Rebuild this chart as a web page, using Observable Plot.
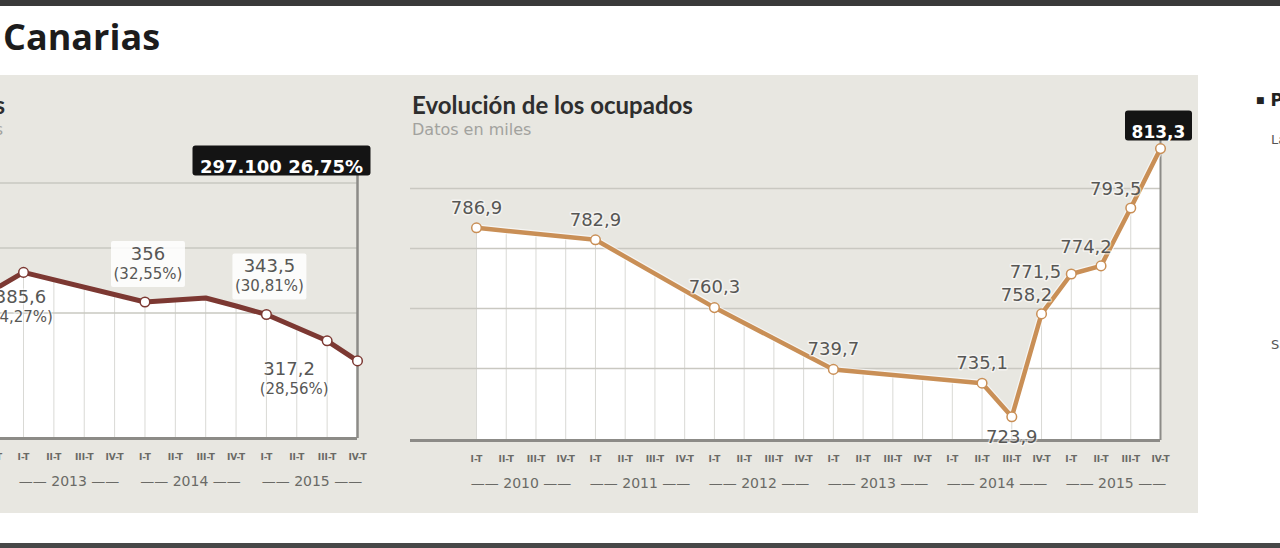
<!DOCTYPE html>
<html>
<head>
<meta charset="utf-8">
<script src="https://cdn.jsdelivr.net/npm/d3@7"></script>
<script src="https://cdn.jsdelivr.net/npm/@observablehq/plot@0.6"></script>
<style>
  html, body { margin: 0; padding: 0; background: #fff; }
  #page { position: relative; width: 1280px; height: 548px; overflow: hidden; background: #fff;
          font-family: "DejaVu Sans", sans-serif; }
  .abs { position: absolute; white-space: nowrap; }
  #topbar { left: 0; top: 0; width: 1280px; height: 6px; background: #3a3a3a; }
  #botbar { left: 0; top: 543px; width: 1280px; height: 5px; background: #474747; }
  #title { left: 3px; top: 15px; font: 700 36px "Open Sans", sans-serif; color: #1c1c1c; line-height: 1.2; }
  #panel { left: 0; top: 75px; width: 1198px; height: 438px; background: #e8e7e1; }
  .ptitle { font: 700 24px Lato, "DejaVu Sans", sans-serif; color: #2e2e2e; line-height: 1; }
  .psub { font: 400 16px "DejaVu Sans", sans-serif; color: #a2a29e; line-height: 1; }
  .chart { position: absolute; top: 75px; }
  #rtitle { left: 1256px; top: 90px; font: 700 17px "DejaVu Sans", sans-serif; color: #222; }
  .rtxt { font: 400 13px "DejaVu Sans", sans-serif; color: #555; }
</style>
</head>
<body>
<div id="page">
  <div id="topbar" class="abs"></div>
  <div id="title" class="abs">Canarias</div>
  <div id="panel" class="abs"></div>
  <div class="abs ptitle" style="left:-300px;width:305px;text-align:right;top:93px;">Evolución de los parados</div>
  <div class="abs psub" style="left:-300px;width:303px;text-align:right;top:122px;">Datos en miles</div>
  <div class="abs ptitle" style="left:412px;top:93px;">Evolución de los ocupados</div>
  <div class="abs psub" style="left:412px;top:122px;">Datos en miles</div>
  <div id="left" class="chart" style="left:-130px;"></div>
  <div id="mid" class="chart" style="left:400px;"></div>
  <div id="rtitle" class="abs"><span style="font-size:9px;vertical-align:3px;">■</span> Paro por provincias</div>
  <div class="abs rtxt" style="left:1271px;top:132px;">Las Palmas</div>
  <div class="abs rtxt" style="left:1271px;top:337px;">Santa Cruz de Tenerife</div>
  <div id="botbar" class="abs"></div>
</div>
<script>
// ---------- DATA ----------
const quarterNames = ["I-T", "II-T", "III-T", "IV-T"];

// Evolución de los ocupados (miles)
const ocupadosYear    = [2010, 2011, 2012, 2013, 2014, 2014, 2014, 2015, 2015, 2015, 2015];
const ocupadosQuarter = [1, 1, 1, 1, 2, 3, 4, 1, 2, 3, 4];
const ocupadosValue   = [786.9, 782.9, 760.3, 739.7, 735.1, 723.9, 758.2, 771.5, 774.2, 793.5, 813.3];
const ocupadosYears   = [2010, 2011, 2012, 2013, 2014, 2015];
const ocupadosGrid    = [740, 760, 780, 800];

// Evolución de los parados (miles) and tasa de paro (%)
const paradosYear    = [2012, 2013, 2014, 2014, 2014, 2015, 2015, 2015];
const paradosQuarter = [4, 1, 1, 3, 4, 1, 3, 4];
const paradosValue   = [368, 385.6, 356, 360, 352, 343.5, 317.2, 297.1];
const paradosRate    = [null, 34.27, 32.55, null, null, 30.81, 28.56, 26.75];
const paradosMarked  = [false, true, true, false, false, true, true, true];
const paradosYears   = [2012, 2013, 2014, 2015];
const paradosGrid    = [345, 410, 475];
const paradosLastLabel = "297.100 26,75%";

// label placement codes (kept apart from values)
const ocupadosLabelPlace = ["n", "n", "n", "n", "n", "s", "nw", "w", "nw", "nw", "box"];
const paradosLabelPlace  = [null, "s", "boxn", null, null, "boxn", "sw", "top"];

// ---------- HELPERS ----------
const PANEL = "#e8e7e1";
const FONT = '"DejaVu Sans",sans-serif';
const fmt = v => v.toFixed(1).replace(".", ",");
const fmtRate = v => "(" + v.toFixed(2).replace(".", ",") + "%)";
const qx = (y, q) => y + (q - 1) / 4;

function roundRectSymbol(w, h, r) {
  return {
    draw(ctx) {
      const x0 = -w / 2, y0 = -h / 2, x1 = w / 2, y1 = h / 2;
      ctx.moveTo(x0 + r, y0);
      ctx.lineTo(x1 - r, y0);
      ctx.arcTo(x1, y0, x1, y0 + r, r);
      ctx.lineTo(x1, y1 - r);
      ctx.arcTo(x1, y1, x1 - r, y1, r);
      ctx.lineTo(x0 + r, y1);
      ctx.arcTo(x0, y1, x0, y1 - r, r);
      ctx.lineTo(x0, y0 + r);
      ctx.arcTo(x0, y0, x0 + r, y0, r);
      ctx.closePath();
    }
  };
}

function quarterTicks(years) {
  return years.flatMap(y => [1, 2, 3, 4].map(q => qx(y, q)));
}
function xAxes(years) {
  return [
    Plot.axisX({ticks: quarterTicks(years), tickFormat: d => quarterNames[Math.round((d - Math.floor(d)) * 4)],
      tickSize: 0, tickPadding: 15, fontSize: 9, fontWeight: "bold", fill: "#6a6a66", label: null}),
    Plot.axisX({ticks: years.map(y => y + 0.375), tickFormat: d => "—— " + Math.floor(d) + " ——",
      tickSize: 0, tickPadding: 38, fontSize: 14, fill: "#6a6a66", label: null})
  ];
}

// ---------- OCUPADOS ----------
const ocupados = ocupadosYear.map((y, i) => ({
  x: qx(y, ocupadosQuarter[i]), v: ocupadosValue[i], place: ocupadosLabelPlace[i]
}));
const TAN = "#c98f56";
const midY0 = 716, midY1 = 816;
const labelStyle = {fontSize: 18, fill: "#575755", stroke: "#ffffff", strokeWidth: 3, strokeOpacity: 0.55};
const midPlaces = {
  n:  {dy: -20},
  s:  {dy: 20},
  nw: {dx: -15, dy: -19},
  w:  {dx: -10, dy: -2, textAnchor: "end"}
};
const lastOcu = ocupados.filter(d => d.place === "box");

const mid = Plot.plot({
  width: 800, height: 438,
  marginLeft: 10, marginRight: 40, marginTop: 65, marginBottom: 73,
  style: {background: "transparent", fontFamily: FONT, overflow: "visible"},
  x: {domain: [2009.4452, 2015.75], label: null},
  y: {domain: [midY0, midY1], axis: null},
  marks: [
    Plot.areaY(ocupados, {x: "x", y1: midY0, y2: "v", fill: "#ffffff"}),
    Plot.ruleX(quarterTicks(ocupadosYears), {y1: midY0, y2: midY1, stroke: "#d9d9d5", strokeWidth: 1}),
    Plot.areaY(ocupados, {x: "x", y1: "v", y2: midY1, fill: PANEL}),
    Plot.ruleY(ocupadosGrid, {stroke: "#c9c8c1", strokeWidth: 1.5}),
    Plot.ruleY([midY0], {stroke: "#8c8b87", strokeWidth: 3}),
    Plot.ruleX([qx(2015, 4)], {y1: midY0, y2: midY1, stroke: "#8c8b87", strokeWidth: 2}),
    Plot.line(ocupados, {x: "x", y: "v", stroke: "#ffffff", strokeOpacity: 0.6, strokeWidth: 7}),
    Plot.line(ocupados, {x: "x", y: "v", stroke: TAN, strokeWidth: 4.5}),
    Plot.dot(ocupados, {x: "x", y: "v", r: 4.8, fill: "#ffffff", stroke: TAN, strokeWidth: 1.5}),
    ...Object.entries(midPlaces).map(([p, o]) =>
      Plot.text(ocupados.filter(d => d.place === p), {x: "x", y: "v", text: d => fmt(d.v), ...labelStyle, ...o})),
    Plot.dot(lastOcu, {x: "x", frameAnchor: "top", dx: -2, dy: -15, symbol: roundRectSymbol(67, 30, 3), fill: "#141414", stroke: "none"}),
    Plot.text(lastOcu, {x: "x", frameAnchor: "top", dx: -2, dy: -15, text: d => fmt(d.v), fill: "#ffffff", fontSize: 17, fontWeight: "bold"}),
    ...xAxes(ocupadosYears)
  ]
});
document.getElementById("mid").appendChild(mid);

// ---------- PARADOS ----------
const parados = paradosYear.map((y, i) => ({
  x: qx(y, paradosQuarter[i]), v: paradosValue[i], rate: paradosRate[i],
  marked: paradosMarked[i], place: paradosLabelPlace[i]
}));
const BROWN = "#7c3832";
const leftY0 = 219.5, leftY1 = 482.5;
const boxed = parados.filter(d => d.place === "boxn");
const below = parados.filter(d => d.place === "s");
const sw = parados.filter(d => d.place === "sw");
const lastPar = parados.filter(d => d.place === "top");
const rateStyle = {fontSize: 15, fill: "#575755", stroke: "#ffffff", strokeWidth: 3, strokeOpacity: 0.55};

const left = Plot.plot({
  width: 502, height: 438,
  marginLeft: 0, marginRight: 15, marginTop: 100, marginBottom: 75,
  style: {background: "transparent", fontFamily: FONT, overflow: "visible"},
  x: {domain: [2011.74, 2015.75], label: null},
  y: {domain: [leftY0, leftY1], axis: null},
  marks: [
    Plot.areaY(parados, {x: "x", y1: leftY0, y2: "v", fill: "#ffffff"}),
    Plot.ruleX(quarterTicks(paradosYears).filter(x => x >= parados[0].x), {y1: leftY0, y2: leftY1, stroke: "#d9d9d5", strokeWidth: 1}),
    Plot.areaY(parados, {x: "x", y1: "v", y2: leftY1, fill: PANEL}),
    Plot.ruleY(paradosGrid, {stroke: "#c9c8c1", strokeWidth: 1.5}),
    Plot.ruleY([leftY0], {stroke: "#8c8b87", strokeWidth: 3}),
    Plot.ruleX([qx(2015, 4)], {y1: leftY0, y2: leftY1, stroke: "#8c8b87", strokeWidth: 2.5}),
    Plot.line(parados, {x: "x", y: "v", stroke: BROWN, strokeWidth: 5}),
    Plot.dot(parados.filter(d => d.marked), {x: "x", y: "v", r: 4.8, fill: "#ffffff", stroke: BROWN, strokeWidth: 1.5}),
    Plot.dot(boxed, {x: "x", y: "v", dx: 3, dy: -38, symbol: roundRectSymbol(74, 46, 2), fill: "#ffffff", fillOpacity: 0.85, stroke: "none"}),
    Plot.text(boxed, {x: "x", y: "v", dx: 3, dy: -48, text: d => fmt(d.v).replace(",0", ""), ...labelStyle, strokeOpacity: 0}),
    Plot.text(boxed, {x: "x", y: "v", dx: 3, dy: -28, text: d => fmtRate(d.rate), ...rateStyle, strokeOpacity: 0}),
    Plot.text(below, {x: "x", y: "v", dx: -3, dy: 25, text: d => fmt(d.v), ...labelStyle}),
    Plot.text(below, {x: "x", y: "v", dx: -5, dy: 45, text: d => fmtRate(d.rate), ...rateStyle}),
    Plot.text(sw, {x: "x", y: "v", dx: -38, dy: 28, text: d => fmt(d.v), ...labelStyle}),
    Plot.text(sw, {x: "x", y: "v", dx: -33, dy: 48, text: d => fmtRate(d.rate), ...rateStyle}),
    Plot.dot(lastPar, {x: "x", frameAnchor: "top", dx: -76, dy: -15, symbol: roundRectSymbol(178, 30, 3), fill: "#141414", stroke: "none"}),
    Plot.text(lastPar, {x: "x", frameAnchor: "top", dx: -76, dy: -15, text: () => paradosLastLabel, fill: "#ffffff", fontSize: 18, fontWeight: "bold"}),
    ...xAxes(paradosYears)
  ]
});
document.getElementById("left").appendChild(left);
</script>
</body>
</html>
